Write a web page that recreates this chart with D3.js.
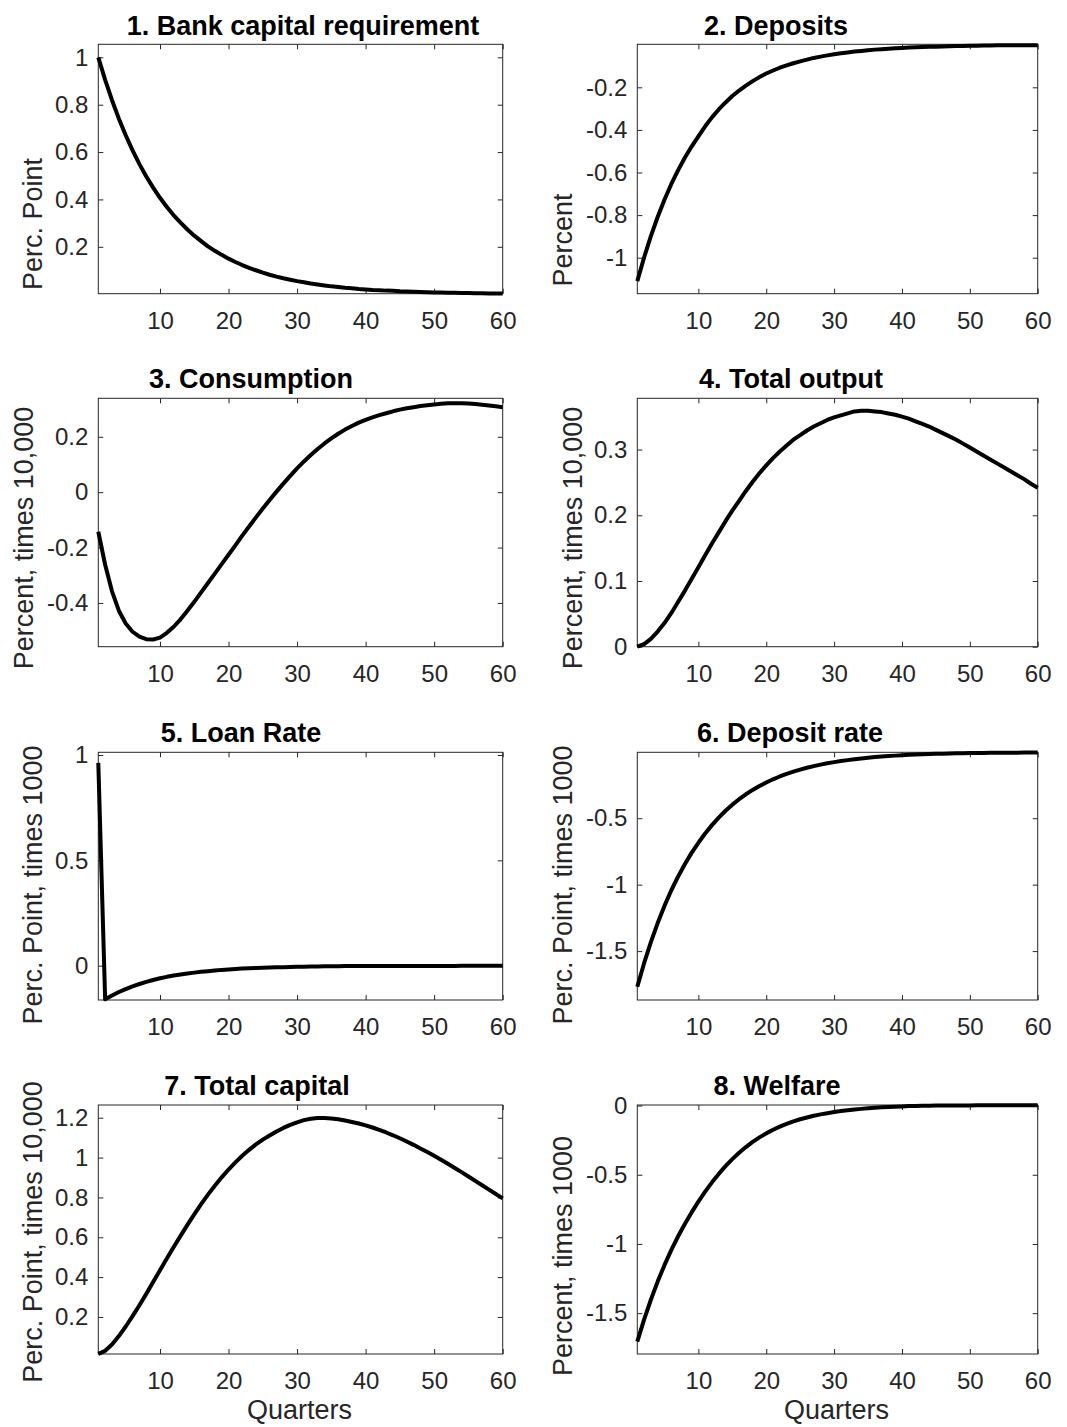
<!DOCTYPE html>
<html>

<head>
    <meta charset="utf-8">
    <script src="https://cdn.jsdelivr.net/npm/d3@7"></script>

    <style>
        body {
            margin: 0;
            background: #fff;
        }

        text {
            font-family: "Liberation Sans", Arial, Helvetica, sans-serif;
        }
    </style>
</head>

<body>

    <svg width="1067" height="1427" id="fig"></svg>

    <script>
        // Quarters on the x axis
        const quarters = d3.range(1, 61);
        const xTicks = [10, 20, 30, 40, 50, 60];

        // Impulse responses, one value per quarter
        const capReq = [
            1.000, 0.905, 0.819, 0.741, 0.671, 0.607, 0.549, 0.497, 0.450, 0.407,
            0.368, 0.333, 0.302, 0.273, 0.247, 0.224, 0.202, 0.183, 0.166, 0.150,
            0.136, 0.123, 0.111, 0.101, 0.091, 0.082, 0.074, 0.067, 0.061, 0.055,
            0.050, 0.045, 0.041, 0.037, 0.033, 0.030, 0.027, 0.025, 0.022, 0.020,
            0.018, 0.017, 0.015, 0.014, 0.012, 0.011, 0.010, 0.009, 0.008, 0.007,
            0.007, 0.006, 0.006, 0.005, 0.005, 0.004, 0.004, 0.003, 0.003, 0.003
        ];
        const deposits = [
            -1.110, -0.999, -0.899, -0.809, -0.728, -0.655, -0.590, -0.531, -0.478, -0.430,
            -0.383, -0.341, -0.304, -0.271, -0.241, -0.215, -0.192, -0.171, -0.152, -0.135,
            -0.121, -0.108, -0.097, -0.087, -0.078, -0.070, -0.062, -0.056, -0.050, -0.045,
            -0.040, -0.036, -0.032, -0.029, -0.026, -0.023, -0.021, -0.019, -0.017, -0.015,
            -0.013, -0.012, -0.011, -0.010, -0.009, -0.008, -0.007, -0.006, -0.006, -0.005,
            -0.005, -0.004, -0.004, -0.003, -0.003, -0.003, -0.002, -0.002, -0.002, -0.002
        ];
        const consumption = [
            -0.143, -0.262, -0.358, -0.428, -0.474, -0.504, -0.522, -0.531, -0.532, -0.525,
            -0.508, -0.486, -0.459, -0.428, -0.396, -0.362, -0.328, -0.294, -0.260, -0.226,
            -0.192, -0.157, -0.124, -0.091, -0.059, -0.028, 0.002, 0.031, 0.059, 0.086,
            0.111, 0.134, 0.156, 0.176, 0.194, 0.211, 0.226, 0.239, 0.251, 0.261,
            0.270, 0.278, 0.285, 0.292, 0.298, 0.303, 0.307, 0.311, 0.314, 0.317,
            0.319, 0.321, 0.321, 0.321, 0.320, 0.318, 0.316, 0.313, 0.310, 0.307
        ];
        const output = [
            0.000, 0.004, 0.012, 0.023, 0.036, 0.051, 0.068, 0.085, 0.103, 0.121,
            0.139, 0.157, 0.174, 0.191, 0.207, 0.222, 0.237, 0.251, 0.264, 0.276,
            0.287, 0.297, 0.306, 0.315, 0.322, 0.329, 0.335, 0.340, 0.345, 0.349,
            0.352, 0.355, 0.358, 0.359, 0.359, 0.358, 0.357, 0.355, 0.353, 0.350,
            0.347, 0.343, 0.339, 0.335, 0.330, 0.325, 0.320, 0.315, 0.309, 0.303,
            0.297, 0.291, 0.285, 0.279, 0.273, 0.267, 0.261, 0.255, 0.248, 0.242
        ];
        const loanRate = [
            0.963, -0.160, -0.142, -0.125, -0.111, -0.098, -0.087, -0.077, -0.068, -0.060,
            -0.053, -0.047, -0.042, -0.037, -0.033, -0.029, -0.026, -0.023, -0.020, -0.018,
            -0.016, -0.014, -0.012, -0.011, -0.010, -0.009, -0.008, -0.007, -0.006, -0.005,
            -0.005, -0.004, -0.004, -0.003, -0.003, -0.003, -0.002, -0.002, -0.002, -0.002,
            -0.001, -0.001, -0.001, -0.001, -0.001, -0.001, -0.001, -0.001, -0.001, -0.001,
            -0.001, -0.001, -0.001, 0.000, 0.000, 0.000, 0.000, 0.000, 0.000, 0.000
        ];
        const depositRate = [
            -1.768, -1.591, -1.432, -1.289, -1.160, -1.044, -0.940, -0.846, -0.761, -0.685,
            -0.615, -0.552, -0.495, -0.444, -0.398, -0.357, -0.320, -0.287, -0.258, -0.231,
            -0.207, -0.186, -0.167, -0.150, -0.134, -0.120, -0.108, -0.097, -0.087, -0.078,
            -0.070, -0.063, -0.056, -0.050, -0.045, -0.040, -0.036, -0.032, -0.029, -0.026,
            -0.023, -0.021, -0.019, -0.017, -0.015, -0.014, -0.013, -0.012, -0.011, -0.010,
            -0.009, -0.009, -0.008, -0.008, -0.007, -0.007, -0.007, -0.006, -0.006, -0.006
        ];
        const capital = [
            0.015, 0.030, 0.062, 0.104, 0.152, 0.204, 0.259, 0.316, 0.375, 0.434,
            0.493, 0.551, 0.607, 0.662, 0.715, 0.766, 0.814, 0.859, 0.901, 0.940,
            0.976, 1.009, 1.039, 1.066, 1.090, 1.111, 1.131, 1.149, 1.164, 1.177,
            1.188, 1.195, 1.199, 1.199, 1.196, 1.192, 1.186, 1.179, 1.171, 1.162,
            1.151, 1.139, 1.126, 1.112, 1.097, 1.081, 1.064, 1.046, 1.028, 1.009,
            0.989, 0.969, 0.948, 0.927, 0.905, 0.883, 0.861, 0.839, 0.817, 0.795
        ];
        const welfare = [
            -1.706, -1.547, -1.403, -1.272, -1.153, -1.045, -0.946, -0.856, -0.772, -0.694,
            -0.622, -0.555, -0.494, -0.438, -0.387, -0.341, -0.300, -0.263, -0.230, -0.201,
            -0.175, -0.152, -0.132, -0.114, -0.099, -0.086, -0.074, -0.064, -0.055, -0.047,
            -0.040, -0.034, -0.029, -0.024, -0.020, -0.016, -0.013, -0.010, -0.008, -0.006,
            -0.004, -0.003, -0.002, -0.001, 0.000, 0.000, 0.001, 0.001, 0.001, 0.001,
            0.002, 0.002, 0.002, 0.002, 0.002, 0.002, 0.003, 0.003, 0.003, 0.003
        ];

        const series = [capReq, deposits, consumption, output, loanRate, depositRate, capital, welfare];

        const titles = [
            "1. Bank capital requirement", "2. Deposits",
            "3. Consumption", "4. Total output",
            "5. Loan Rate", "6. Deposit rate",
            "7. Total capital", "8. Welfare"
        ];
        const yLabels = [
            "Perc. Point", "Percent",
            "Percent, times 10,000", "Percent, times 10,000",
            "Perc. Point, times 1000", "Perc. Point, times 1000",
            "Perc. Point, times 10,000", "Percent, times 1000"
        ];
        const yTicks = [
            [0.2, 0.4, 0.6, 0.8, 1],
            [-1, -0.8, -0.6, -0.4, -0.2],
            [-0.4, -0.2, 0, 0.2],
            [0, 0.1, 0.2, 0.3],
            [0, 0.5, 1],
            [-1.5, -1, -0.5],
            [0.2, 0.4, 0.6, 0.8, 1, 1.2],
            [-1.5, -1, -0.5, 0]
        ];
        const yLimits = [
            [0.002, 1.055], [-1.169, 0.002],
            [-0.558, 0.339], [0, 0.378],
            [-0.163, 1.013], [-1.868, -0.004],
            [0.014, 1.264], [-1.795, 0.004]
        ];

        // Layout (pixels)
        const cols = [[98.3, 502.7], [637.3, 1037.7]];
        const rows = [[44.3, 293.7], [398.3, 646.7], [752.3, 1000], [1105, 1354]];
        const titleX = [303, 776, 251, 791, 241, 790, 257, 777];
        const titleY = [34.5, 388.3, 741.7, 1095];
        const yLabelX = [41.7, 571.7, 33.3, 581.7, 41.7, 571.7, 41.7, 571.7];
        const yLabelCy = [224, 240, 538, 538, 885, 885, 1232, 1256];

        const axisColor = "#262626";
        const svg = d3.select("#fig");

        series.forEach((values, i) => {
            const col = i % 2;
            const row = Math.floor(i / 2);
            const [x0, x1] = cols[col];
            const [y0, y1] = rows[row];

            const x = d3.scaleLinear().domain([1, 60]).range([x0, x1]);
            const y = d3.scaleLinear().domain(yLimits[i]).range([y1, y0]);

            // Axes: labels on bottom/left, inward ticks on all four sides
            svg.append("g")
                .attr("transform", `translate(0, ${y1})`)
                .call(d3.axisBottom(x).tickValues(xTicks).tickSize(-5).tickPadding(18).tickFormat(String))
                .call(g => g.select(".domain").remove())
                .attr("font-size", 24).attr("color", axisColor);

            svg.append("g")
                .attr("transform", `translate(${x0}, 0)`)
                .call(d3.axisLeft(y).tickValues(yTicks[i]).tickSize(-5).tickPadding(10).tickFormat(String))
                .call(g => g.select(".domain").remove())
                .attr("font-size", 24).attr("color", axisColor);

            svg.append("g")
                .attr("transform", `translate(0, ${y0})`)
                .call(d3.axisTop(x).tickValues(xTicks).tickSize(-5).tickFormat(""))
                .call(g => g.select(".domain").remove())
                .attr("color", axisColor);

            svg.append("g")
                .attr("transform", `translate(${x1}, 0)`)
                .call(d3.axisRight(y).tickValues(yTicks[i]).tickSize(-5).tickFormat(""))
                .call(g => g.select(".domain").remove())
                .attr("color", axisColor);

            // Axes box
            svg.append("rect")
                .attr("x", x0).attr("y", y0)
                .attr("width", x1 - x0).attr("height", y1 - y0)
                .attr("fill", "none").attr("stroke", axisColor).attr("stroke-width", 1);

            // Response line
            const line = d3.line()
                .x((d, j) => x(quarters[j]))
                .y(d => y(d));

            svg.append("path")
                .attr("d", line(values))
                .attr("fill", "none")
                .attr("stroke", "#000")
                .attr("stroke-width", 4)
                .attr("stroke-linejoin", "round");

            // Title
            svg.append("text")
                .attr("x", titleX[i]).attr("y", titleY[row])
                .attr("text-anchor", "middle")
                .attr("font-weight", "bold")
                .attr("font-size", 27)
                .attr("fill", "#000")
                .text(titles[i]);

            // Y label
            svg.append("text")
                .attr("transform", `translate(${yLabelX[i]}, ${yLabelCy[i]}) rotate(-90)`)
                .attr("text-anchor", "middle")
                .attr("font-size", 27)
                .attr("fill", axisColor)
                .text(yLabels[i]);

            // X label on the bottom row only
            if (row === 3) {
                svg.append("text")
                    .attr("x", (x0 + x1) / 2 - 1).attr("y", 1419)
                    .attr("text-anchor", "middle")
                    .attr("font-size", 27)
                    .attr("fill", axisColor)
                    .text("Quarters");
            }
        });
    </script>

</body>

</html>
